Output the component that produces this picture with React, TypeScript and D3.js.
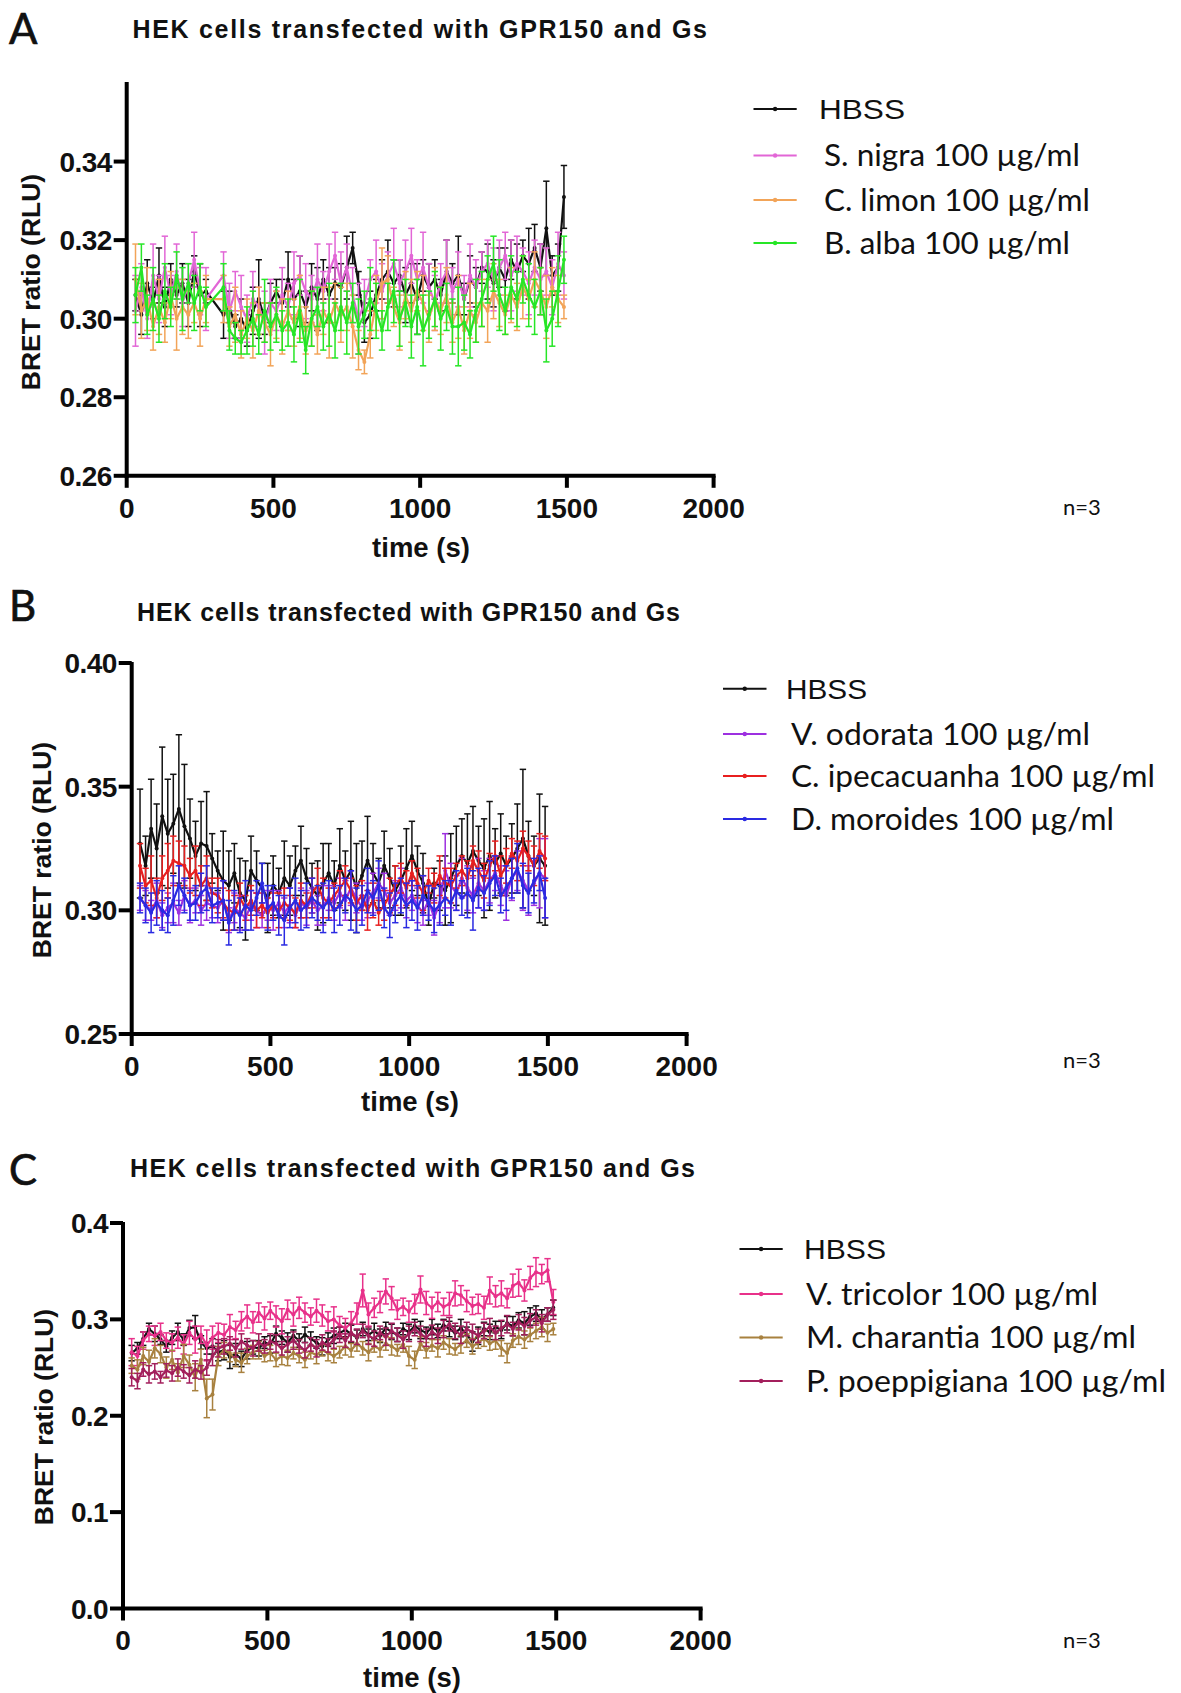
import React from 'react';
import * as d3 from 'd3';

// ---------- shared ----------
const X_TICKS = [0, 500, 1000, 1500, 2000];
const TITLE = 'HEK cells transfected with GPR150 and Gs';

// ---------- Panel A (values and SEM in thousandths of BRET ratio) ----------
const TIMES_A = [30,50,70,90,110,130,150,170,190,210,230,250,270,
  330,350,370,390,410,430,450,470,490,510,
  530,550,570,590,610,630,650,670,690,710,
  730,750,770,790,810,830,850,870,890,910,
  930,950,970,990,1010,1030,1050,1070,1090,1110,
  1130,1150,1170,1190,1210,1230,1250,1270,1290,1310,
  1330,1350,1370,1390,1410,1430,1450,1470,1490];
const Y_TICKS_A = [0.26, 0.28, 0.30, 0.32, 0.34];
const A_HBSS = [306,301,309,304,311,303,310,306,309,304,312,306,307,
  301,303,298,300,297,302,305,300,304,307,
  304,310,305,307,303,308,305,310,306,309,
  308,313,318,309,299,301,306,310,312,309,
  311,306,309,305,311,308,310,306,312,309,
  311,305,310,308,313,312,309,313,310,315,
  312,316,314,318,313,323,311,313,331];
const A_HBSS_ERR = [4,5,6,4,7,5,4,3,5,6,4,8,3,
  6,4,3,5,4,6,10,4,5,3,
  6,7,5,9,4,6,8,5,7,4,
  6,8,4,3,5,6,4,5,8,6,
  4,7,5,9,4,6,5,4,8,5,
  10,4,6,5,4,7,6,5,8,5,
  7,4,9,6,6,12,5,6,8];
const A_SNIGRA = [302,308,300,311,305,313,306,312,304,309,315,307,305,
  311,302,307,303,300,305,303,299,304,302,
  306,303,309,311,307,305,310,307,312,316,
  309,313,306,300,304,310,312,307,311,314,
  309,312,316,310,313,308,304,309,312,307,
  310,305,311,308,312,314,310,313,316,311,
  314,312,309,313,310,312,308,314,311];
const A_SNIGRA_ERR = [9,6,5,8,6,8,5,7,6,5,7,6,8,
  6,7,5,8,6,7,5,8,6,5,
  7,6,8,5,7,6,9,5,7,6,
  8,6,7,9,6,5,8,7,6,9,
  6,8,7,5,9,6,7,5,8,6,
  7,6,8,7,5,6,8,7,6,9,
  7,6,8,7,9,6,7,8,6];
const A_CLIMON = [310,302,305,298,303,299,306,300,303,301,304,300,305,
  305,298,301,296,300,297,302,299,296,301,
  298,302,299,303,297,300,296,302,299,304,
  301,303,298,292,289,296,304,309,310,303,
  299,306,302,307,304,300,305,302,306,299,
  303,297,302,299,304,302,307,304,301,306,
  303,308,305,310,307,303,308,305,303];
const A_CLIMON_ERR = [9,7,8,6,7,5,6,8,7,6,5,7,6,
  6,5,7,6,5,7,6,5,8,6,
  7,5,6,8,6,7,5,6,9,5,
  7,6,8,5,3,6,7,9,6,5,
  7,6,8,5,7,6,8,6,7,5,
  8,6,7,5,6,8,7,6,5,7,
  6,8,5,7,6,8,5,6,3];
const A_BALBA = [306,313,301,305,300,307,303,311,305,309,304,308,303,
  308,297,295,294,297,300,296,302,298,301,
  297,299,296,302,292,300,303,298,301,297,
  303,299,304,298,301,305,302,297,303,307,
  300,304,298,303,297,301,305,300,303,298,
  298,299,296,302,305,310,314,306,302,308,
  305,310,306,303,307,297,300,307,315];
const A_BALBA_ERR = [7,6,5,8,6,7,5,6,8,5,7,6,5,
  6,5,4,3,6,7,5,8,6,7,
  5,6,7,8,6,7,5,6,8,7,
  6,8,5,7,6,8,7,5,6,8,
  7,6,8,7,9,6,7,8,6,7,
  10,7,6,8,7,6,7,9,6,8,
  7,6,8,7,6,8,7,9,6];

// ---------- Panel B ----------
const TIMES_B = [30,50,70,90,110,130,150,170,190,210,
  230,250,270,290,310,330,350,370,390,410,
  430,450,470,490,510,530,550,570,590,610,
  630,650,670,690,710,730,750,770,790,810,
  830,850,870,890,910,930,950,970,990,1010,
  1030,1050,1070,1090,1110,1130,1150,1170,1190,1210,
  1230,1250,1270,1290,1310,1330,1350,1370,1390,1410,
  1430,1450,1470,1490];
const Y_TICKS_B = [0.25, 0.30, 0.35, 0.40];
const B_HBSS = [327,318,333,325,338,331,335,341,334,329,
  322,327,326,321,316,312,310,315,307,304,
  316,312,309,305,310,307,313,310,316,320,
  313,309,306,311,315,310,318,312,316,309,
  314,320,315,311,318,313,308,312,317,322,
  316,311,302,311,310,308,313,318,322,319,
  324,320,317,322,319,323,318,321,325,329,
  322,318,321,318];
const B_HBSS_ERR = [22,12,20,18,28,22,20,30,25,16,
  14,17,22,10,8,20,14,12,14,16,
  14,12,10,14,12,10,15,12,10,14,
  12,10,14,16,12,10,15,12,20,18,
  14,18,12,10,14,12,10,14,16,14,
  10,12,8,6,10,14,18,16,15,20,
  18,14,20,22,14,16,12,14,18,28,
  14,12,26,24];
const B_VODORATA = [305,302,300,304,298,301,303,299,306,302,
  304,300,303,302,301,304,296,301,299,297,
  302,300,298,302,300,303,299,302,298,303,
  301,304,300,302,305,303,307,304,309,305,
  301,304,307,311,308,303,306,309,304,306,
  302,299,304,297,303,316,310,307,313,309,
  306,311,308,312,315,310,306,313,316,312,
  308,311,315,313];
const B_VODORATA_ERR = [5,6,4,7,5,6,8,5,6,7,
  5,6,7,5,6,8,5,6,7,5,
  6,7,5,6,8,5,6,7,5,6,
  7,5,6,8,5,7,6,8,7,6,
  5,7,8,6,7,5,6,8,7,6,
  7,5,6,7,8,15,9,7,8,9,
  7,10,8,9,7,8,10,9,8,12,
  10,9,14,16];
const B_CIPECAC = [318,310,312,305,313,316,320,319,318,314,
  316,310,313,307,306,303,300,299,305,301,
  304,300,302,299,302,300,303,301,299,304,
  302,307,310,305,303,306,309,312,308,303,
  306,300,304,299,302,306,310,313,309,315,
  311,307,312,309,314,311,310,314,316,313,
  320,316,312,318,322,314,318,323,320,325,
  322,318,324,321];
const B_CIPECAC_ERR = [9,7,10,8,9,11,10,9,8,7,
  10,8,9,6,7,6,8,7,6,5,
  6,7,5,6,5,7,6,5,6,7,
  5,6,7,8,6,5,7,6,5,7,
  6,8,7,5,6,7,8,6,7,5,
  6,7,5,6,8,6,7,5,6,7,
  6,8,7,5,6,8,7,6,8,7,
  6,8,7,9];
const B_DMOROIDES = [305,302,299,303,300,298,304,310,306,302,
  303,307,309,302,303,304,295,300,298,302,
  300,305,311,301,303,298,296,301,304,300,
  302,305,303,301,304,300,302,306,304,300,
  302,308,305,310,301,298,303,306,302,304,
  301,306,303,300,302,305,303,308,305,307,
  304,309,307,311,314,306,309,313,317,310,
  307,312,315,305];
const B_DMOROIDES_ERR = [6,7,8,9,8,7,10,8,7,6,
  7,8,9,7,6,8,9,8,7,10,
  8,7,8,9,7,8,10,8,9,8,
  9,8,7,10,8,9,8,7,12,9,
  8,9,7,10,8,9,8,7,9,8,
  9,8,7,9,8,7,9,8,7,10,
  12,8,7,9,8,7,9,8,10,9,
  8,9,7,8];

// ---------- Panel C ----------
const TIMES_C = TIMES_B;
const Y_TICKS_C = [0.0, 0.1, 0.2, 0.3, 0.4];
const C_HBSS = [265,270,280,290,285,279,272,281,287,279,
  291,292,276,270,272,266,268,261,264,259,
  268,271,270,276,274,285,281,276,283,278,
  284,280,276,272,279,283,286,289,285,281,
  290,284,288,283,291,287,284,290,287,293,
  289,286,292,288,294,290,286,291,284,277,
  283,290,287,292,289,296,293,299,296,303,
  306,300,305,312];
const C_HBSS_ERR = [8,6,7,6,8,5,6,7,9,6,
  8,12,7,6,8,9,10,12,11,8,
  9,7,8,6,9,8,7,10,6,7,
  8,7,6,9,7,8,6,7,9,8,
  7,6,8,7,6,8,7,6,8,7,
  9,6,8,7,6,8,7,9,8,10,
  9,7,8,6,9,7,10,8,12,9,
  8,10,7,8];
const C_VTRICOLOR = [266,262,278,285,283,287,278,276,281,274,
  286,279,284,273,281,286,284,292,289,298,
  303,297,307,301,309,303,298,310,305,312,
  307,303,309,304,298,300,294,291,296,306,
  330,305,312,318,329,322,310,313,308,316,
  331,317,312,318,313,316,327,325,319,314,
  316,312,330,324,327,322,335,338,330,343,
  349,347,351,318];
const C_VTRICOLOR_ERR = [14,10,9,8,10,9,8,9,11,10,
  12,14,9,16,12,10,11,13,9,10,
  12,11,10,12,9,11,13,10,12,11,
  10,9,12,11,10,13,9,10,12,11,
  17,12,10,11,13,12,10,9,11,10,
  14,12,11,10,9,12,13,10,11,9,
  10,12,14,11,13,10,12,14,11,12,
  15,10,12,13];
const C_MCHARANTIA = [252,248,262,256,270,264,250,258,245,262,
  253,240,258,218,222,262,268,265,258,255,
  262,266,268,262,265,258,262,260,265,262,
  258,266,263,268,265,262,266,272,268,275,
  270,266,272,269,275,272,268,274,262,258,
  275,268,273,270,276,272,269,274,278,272,
  276,280,275,278,270,265,278,282,279,284,
  288,292,286,290];
const C_MCHARANTIA_ERR = [8,10,9,12,10,9,11,10,9,12,
  10,14,11,20,16,10,8,9,7,10,
  8,7,9,6,8,7,9,8,6,7,
  8,7,9,6,8,7,6,9,7,8,
  7,9,6,8,7,9,6,8,10,9,
  7,8,6,9,7,8,6,9,7,8,
  6,8,7,9,8,10,7,8,9,7,
  8,10,9,6];
const C_PPOEPP = [240,236,248,243,246,240,247,244,250,246,
  242,248,245,250,262,270,272,275,270,277,
  273,270,276,272,277,275,270,274,278,272,
  268,274,270,276,273,279,284,278,286,282,
  288,283,280,286,282,288,284,279,285,290,
  285,281,287,283,290,295,288,284,290,287,
  283,288,292,286,291,295,290,297,293,299,
  302,296,305,310];
const C_PPOEPP_ERR = [9,8,7,9,8,6,7,8,9,7,
  8,9,7,8,10,9,8,7,9,8,
  7,8,9,7,8,9,7,8,9,7,
  8,7,9,8,7,9,8,7,9,8,
  7,9,8,7,9,8,7,9,8,7,
  8,9,7,8,9,7,8,9,7,8,
  7,8,9,7,8,9,7,8,9,7,
  8,9,7,10];

type Series = { name: string; color: string; vals: number[]; errs: number[] };

const SERIES_A: Series[] = [
  { name: 'HBSS', color: '#111111', vals: A_HBSS, errs: A_HBSS_ERR },
  { name: 'S. nigra 100 µg/ml', color: '#e266d6', vals: A_SNIGRA, errs: A_SNIGRA_ERR },
  { name: 'C. limon 100 µg/ml', color: '#f2a458', vals: A_CLIMON, errs: A_CLIMON_ERR },
  { name: 'B. alba 100 µg/ml', color: '#26e626', vals: A_BALBA, errs: A_BALBA_ERR },
];
const SERIES_B: Series[] = [
  { name: 'HBSS', color: '#111111', vals: B_HBSS, errs: B_HBSS_ERR },
  { name: 'V. odorata 100 µg/ml', color: '#9d30e0', vals: B_VODORATA, errs: B_VODORATA_ERR },
  { name: 'C. ipecacuanha 100 µg/ml', color: '#e81f1f', vals: B_CIPECAC, errs: B_CIPECAC_ERR },
  { name: 'D. moroides 100 µg/ml', color: '#2a2ae2', vals: B_DMOROIDES, errs: B_DMOROIDES_ERR },
];
const SERIES_C: Series[] = [
  { name: 'HBSS', color: '#111111', vals: C_HBSS, errs: C_HBSS_ERR },
  { name: 'V. tricolor 100 µg/ml', color: '#e8318a', vals: C_VTRICOLOR, errs: C_VTRICOLOR_ERR },
  { name: 'M. charantia 100 µg/ml', color: '#a8813f', vals: C_MCHARANTIA, errs: C_MCHARANTIA_ERR },
  { name: 'P. poeppigiana 100 µg/ml', color: '#a31f5c', vals: C_PPOEPP, errs: C_PPOEPP_ERR },
];

const BOLD = '"Liberation Sans", Arial, sans-serif';
const HUMAN = 'Lato, "Open Sans", sans-serif';

interface PanelCfg {
  letter: string; letterY: number;
  titleX0: number; titleX1: number; titleY: number;
  times: number[]; series: Series[];
  x0: number; x1: number; yTop: number; yBot: number;
  yDomain: [number, number]; yTicks: number[]; yFmt: (v: number) => string;
  xLabelY: number; xTitleX: number; xTitleY: number;
  yTitleX: number; yTitleY: number;
  legX0: number; legX1: number; legYs: number[]; legTextX: number[]; legW: number[];
  nY: number;
}

const PANELS: PanelCfg[] = [
  {
    letter: 'A', letterY: 44, titleX0: 132.5, titleX1: 707, titleY: 37.5,
    times: TIMES_A, series: SERIES_A,
    x0: 126.7, x1: 713.6, yTop: 83, yBot: 475.8,
    yDomain: [0.26, 0.36], yTicks: Y_TICKS_A, yFmt: d3.format('.2f'),
    xLabelY: 517.7, xTitleX: 421, xTitleY: 556.7, yTitleX: 30, yTitleY: 282,
    legX0: 753.5, legX1: 796.7, legYs: [109, 155.5, 200, 243], legTextX: [819, 824, 824, 824], legW: [86, 256, 266, 246],
    nY: 515,
  },
  {
    letter: 'B', letterY: 621, titleX0: 137, titleX1: 680, titleY: 621,
    times: TIMES_B, series: SERIES_B,
    x0: 131.7, x1: 686.6, yTop: 663, yBot: 1034,
    yDomain: [0.25, 0.40], yTicks: Y_TICKS_B, yFmt: d3.format('.2f'),
    xLabelY: 1075.5, xTitleX: 410, xTitleY: 1111, yTitleX: 41, yTitleY: 850,
    legX0: 723, legX1: 766.5, legYs: [688.7, 734, 776, 819], legTextX: [786, 791, 791, 791], legW: [81, 299, 364, 323],
    nY: 1068,
  },
  {
    letter: 'C', letterY: 1185, titleX0: 130, titleX1: 695, titleY: 1177,
    times: TIMES_C, series: SERIES_C,
    x0: 123, x1: 700.6, yTop: 1223, yBot: 1608.5,
    yDomain: [0, 0.4], yTicks: Y_TICKS_C, yFmt: d3.format('.1f'),
    xLabelY: 1650, xTitleX: 412, xTitleY: 1687, yTitleX: 43, yTitleY: 1417,
    legX0: 739.5, legX1: 782.7, legYs: [1249, 1294, 1337.5, 1381], legTextX: [804, 806, 806, 806], legW: [82, 292, 330, 360],
    nY: 1648,
  },
];

function Panel({ cfg }: { cfg: PanelCfg }) {
  const x = d3.scaleLinear().domain([0, 2000]).range([cfg.x0, cfg.x1]);
  const y = d3.scaleLinear().domain(cfg.yDomain).range([cfg.yBot, cfg.yTop]);
  const line = d3.line<[number, number]>().x(d => x(d[0])).y(d => y(d[1]));
  const cap = 3.2;
  const AX = 4;
  return (
    <g>
      <text x={9} y={cfg.letterY} fontFamily={HUMAN} fontSize={42} fill="#111" stroke="#111" strokeWidth={0.7}>{cfg.letter}</text>
      <text x={cfg.titleX0} y={cfg.titleY} fontFamily={BOLD} fontWeight="bold" fontSize={25}
        textLength={cfg.titleX1 - cfg.titleX0} lengthAdjust="spacing" fill="#111">{TITLE}</text>

      {cfg.series.map((s, si) => {
        const n = Math.min(cfg.times.length, s.vals.length, s.errs.length);
        const pts: [number, number][] = [];
        for (let i = 0; i < n; i++) pts.push([cfg.times[i], s.vals[i] / 1000]);
        return (
          <g key={si}>
            {pts.map((p, i) => {
              const e = s.errs[i] / 1000;
              const px = x(p[0]);
              const yh = y(p[1] + e), yl = y(p[1] - e);
              return (
                <g key={i} stroke={s.color} strokeWidth={1.5}>
                  <line x1={px} x2={px} y1={yh} y2={yl} />
                  <line x1={px - cap} x2={px + cap} y1={yh} y2={yh} />
                  <line x1={px - cap} x2={px + cap} y1={yl} y2={yl} />
                </g>
              );
            })}
            <path d={line(pts) || ''} fill="none" stroke={s.color} strokeWidth={2.2} strokeLinejoin="round" />
            {pts.map((p, i) => (
              <circle key={i} cx={x(p[0])} cy={y(p[1])} r={2} fill={s.color} />
            ))}
          </g>
        );
      })}

      {/* axes */}
      <line x1={cfg.x0} x2={cfg.x0} y1={y(cfg.yDomain[1]) - 1} y2={cfg.yBot + AX / 2} stroke="#000" strokeWidth={AX} />
      <line x1={cfg.x0 - AX / 2} x2={x(2000) + AX / 2} y1={cfg.yBot} y2={cfg.yBot} stroke="#000" strokeWidth={AX} />
      {cfg.yTicks.map((t, i) => (
        <g key={'yt' + i}>
          <line x1={cfg.x0 - 13} x2={cfg.x0} y1={y(t)} y2={y(t)} stroke="#000" strokeWidth={AX} />
          <text x={cfg.x0 - 15} y={y(t)} dy="0.36em" textAnchor="end" fontFamily={BOLD} fontWeight="bold"
            fontSize={28} letterSpacing={-0.6} fill="#111">{cfg.yFmt(t)}</text>
        </g>
      ))}
      {X_TICKS.map((t, i) => (
        <g key={'xt' + i}>
          <line x1={x(t)} x2={x(t)} y1={cfg.yBot} y2={cfg.yBot + 12} stroke="#000" strokeWidth={AX} />
          <text x={x(t)} y={cfg.xLabelY} textAnchor="middle" fontFamily={BOLD} fontWeight="bold"
            fontSize={28} fill="#111">{t}</text>
        </g>
      ))}
      <text x={cfg.xTitleX} y={cfg.xTitleY} textAnchor="middle" fontFamily={BOLD} fontWeight="bold"
        fontSize={27.5} fill="#111">time (s)</text>
      <text transform={`translate(${cfg.yTitleX},${cfg.yTitleY}) rotate(-90)`} textAnchor="middle" dy="0.36em"
        fontFamily={BOLD} fontWeight="bold" fontSize={26.5} fill="#111">BRET ratio (RLU)</text>

      {/* legend */}
      {cfg.series.map((s, i) => {
        const ly = cfg.legYs[i];
        const mid = (cfg.legX0 + cfg.legX1) / 2;
        return (
          <g key={'lg' + i}>
            <line x1={cfg.legX0} x2={cfg.legX1} y1={ly} y2={ly} stroke={s.color} strokeWidth={2} />
            <circle cx={mid} cy={ly} r={2.2} fill={s.color} />
            <text x={cfg.legTextX[i]} y={ly} dy="0.36em" fontFamily={i === 0 ? BOLD : HUMAN}
              fontSize={i === 0 ? 28 : 30} textLength={cfg.legW[i]} lengthAdjust="spacingAndGlyphs"
              fill="#111">{s.name}</text>
          </g>
        );
      })}
      <text x={1063} y={cfg.nY} fontFamily={HUMAN} fontSize={22} fill="#111">n=3</text>
    </g>
  );
}

export default function App() {
  return (
    <svg width={1181} height={1693} viewBox="0 0 1181 1693"
      style={{ position: 'absolute', left: 0, top: 0, background: '#fff' }}>
      <rect x={0} y={0} width={1181} height={1693} fill="#fff" />
      {PANELS.map((p, i) => <Panel key={i} cfg={p} />)}
    </svg>
  );
}
